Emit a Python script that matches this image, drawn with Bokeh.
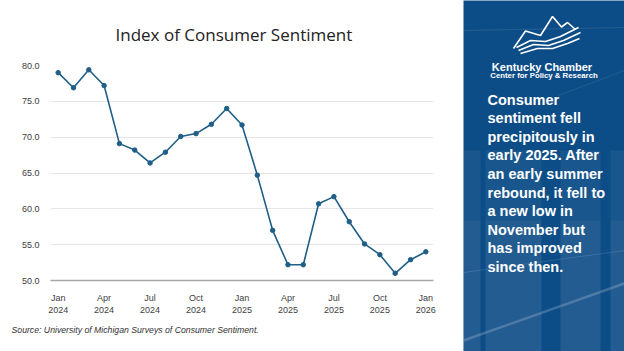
from bokeh.plotting import figure
from bokeh.models import FixedTicker, Title, ColumnDataSource
from bokeh.layouts import row
from bokeh.embed import file_html
from bokeh.resources import INLINE

# ---- data ----
months = ["Jan 2024", "Feb 2024", "Mar 2024", "Apr 2024", "May 2024", "Jun 2024",
          "Jul 2024", "Aug 2024", "Sep 2024", "Oct 2024", "Nov 2024", "Dec 2024",
          "Jan 2025", "Feb 2025", "Mar 2025", "Apr 2025", "May 2025", "Jun 2025",
          "Jul 2025", "Aug 2025", "Sep 2025", "Oct 2025", "Nov 2025", "Dec 2025",
          "Jan 2026"]
sentiment = [79.0, 76.9, 79.4, 77.2, 69.1, 68.2, 66.4, 67.9, 70.1, 70.5, 71.8, 74.0,
             71.7, 64.7, 57.0, 52.2, 52.2, 60.7, 61.7, 58.2, 55.1, 53.6, 51.0, 52.9,
             54.0]
x_tick_positions = [0, 3, 6, 9, 12, 15, 18, 21, 24]
x_tick_labels = ["Jan\n2024", "Apr\n2024", "Jul\n2024", "Oct\n2024", "Jan\n2025",
                 "Apr\n2025", "Jul\n2025", "Oct\n2025", "Jan\n2026"]
y_ticks = [50, 55, 60, 65, 70, 75, 80]
y_tick_labels = ["50.0", "55.0", "60.0", "65.0", "70.0", "75.0", "80.0"]

title_text = "Index of Consumer Sentiment"
source_text = "Source: University of Michigan Surveys of Consumer Sentiment."
panel_lines = ["Consumer", "sentiment fell", "precipitously in", "early 2025. After",
               "an early summer", "rebound, it fell to", "a new low in",
               "November but", "has improved", "since then."]

LINE = "#1f5f87"
TXT = "#404040"
PANEL = "#0d4d87"

src = ColumnDataSource(dict(x=list(range(len(months))), y=sentiment, m=months))

p = figure(width=463, height=351, x_range=(-0.5, 24.5), y_range=(50, 80),
           output_backend="svg", toolbar_location=None,
           min_border_left=50, min_border_right=30, min_border_top=65,
           min_border_bottom=71)
p.frame_align = False
p.outline_line_color = None
p.background_fill_color = "white"
p.border_fill_color = "white"
p.title.visible = False

p.line("x", "y", source=src, line_color=LINE, line_width=1.6)
p.scatter("x", "y", source=src, size=4.5, fill_color=LINE, line_color=LINE)

p.xgrid.visible = False
p.ygrid.grid_line_color = "#e6e6e6"
p.ygrid.grid_line_width = 1
p.ygrid.ticker = FixedTicker(ticks=y_ticks)

p.yaxis.ticker = FixedTicker(ticks=y_ticks)
p.yaxis.major_label_overrides = {t: l for t, l in zip(y_ticks, y_tick_labels)}
p.yaxis.axis_line_color = None
p.yaxis.major_tick_line_color = None
p.yaxis.minor_tick_line_color = None
p.yaxis.major_label_text_font_size = "9px"
p.yaxis.major_label_text_color = TXT
p.yaxis.major_label_text_font = "Liberation Sans"
p.yaxis.major_label_standoff = 5

p.xaxis.ticker = FixedTicker(ticks=x_tick_positions)
p.xaxis.major_label_overrides = {t: l for t, l in zip(x_tick_positions, x_tick_labels)}
p.xaxis.axis_line_color = "#a6a6a6"
p.xaxis.axis_line_width = 1.5
p.xaxis.major_tick_line_color = None
p.xaxis.minor_tick_line_color = None
p.xaxis.major_label_text_font_size = "9px"
p.xaxis.major_label_text_color = TXT
p.xaxis.major_label_text_font = "Liberation Sans"
p.xaxis.major_label_standoff = 6

p.add_layout(Title(text=title_text, align="left", offset=65, text_font_size="17px",
                   text_font="Open Sans", text_font_style="normal",
                   text_color="#222222", standoff=39), "above")
p.add_layout(Title(text=source_text, align="left", offset=-39, text_font_size="8.7px",
                   text_font="Liberation Sans", text_font_style="italic",
                   text_color="#333333", standoff=11), "below")

# ---- right panel ----
q = figure(width=161, height=351, x_range=(0, 161), y_range=(351, 0),
           output_backend="svg", toolbar_location=None, min_border=0)
q.frame_align = False
q.axis.visible = False
q.grid.visible = False
q.outline_line_color = None
q.background_fill_color = PANEL
q.border_fill_color = PANEL

# subtle background decoration (lighter vertical bands, faint streaks)
q.quad(left=[0, 22, 97, 147], right=[17, 78, 137, 161], top=[150, 150, 150, 150],
       bottom=[351, 351, 351, 351], fill_color="white", fill_alpha=0.05, line_color=None)
q.quad(left=[0, 22, 97, 147], right=[17, 78, 137, 161], top=[220, 220, 220, 220],
       bottom=[351, 351, 351, 351], fill_color="white", fill_alpha=0.04, line_color=None)
q.segment(x0=[0, 0, 0, 95], y0=[272, 30, 340, 95], x1=[161, 161, 161, 161],
          y1=[250, 27, 283, 70], line_color="white", line_alpha=[0.12, 0.1, 0.2, 0.08],
          line_width=[1, 1, 2.5, 1])

# logo
q.line(x=[50, 62, 77, 89, 98, 104, 112], y=[48, 30.5, 35, 16, 26.5, 22, 29],
       line_color="white", line_width=1.6)
q.line(x=[53, 67, 82, 97, 115], y=[47, 40, 41, 36, 27], line_color="white", line_width=1.5)
q.line(x=[55, 70, 85, 100, 117], y=[50, 44, 45, 40, 32], line_color="white", line_width=1.5)
q.line(x=[57, 74, 89, 104, 116], y=[53, 48, 48, 43, 38], line_color="white", line_width=1.5)

q.text(x=[78.5], y=[66.5], text=["Kentucky Chamber"], text_align="center",
       text_baseline="alphabetic", text_font_size="11px", text_font_style="bold",
       text_color="white", text_font={"value": "Liberation Sans"})
q.text(x=[80.5], y=[74.5], text=["Center for Policy & Research"], text_align="center",
       text_baseline="alphabetic", text_font_size="7.8px", text_font_style="bold",
       text_color="white", text_font={"value": "Liberation Sans"})

ys = [99 + 18.6 * i for i in range(len(panel_lines))]
q.text(x=[24] * len(panel_lines), y=ys, text=panel_lines, text_align="left",
       text_baseline="middle", text_font_size="14.5px", text_font_style="bold",
       text_color="white", text_font={"value": "Liberation Sans"})

layout = row(p, q, spacing=0)
open("out.html", "w").write(file_html(layout, INLINE))
